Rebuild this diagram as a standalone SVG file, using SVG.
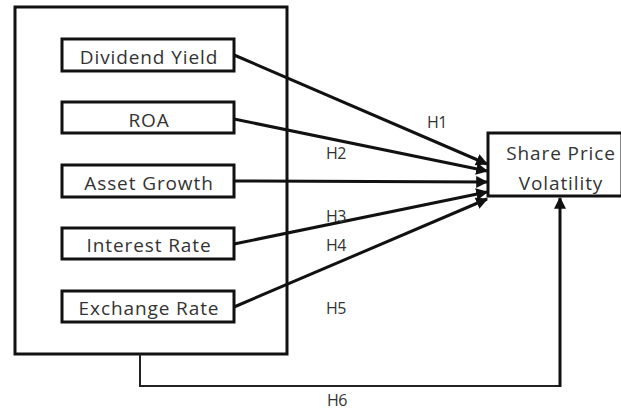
<svg xmlns="http://www.w3.org/2000/svg" width="621" height="410" viewBox="0 0 621 410">
<style>
.box{fill:#fff;stroke:#111;stroke-width:3}
.lbl{font-family:"Open Sans","Liberation Sans",sans-serif;font-size:19px;letter-spacing:0.9px;fill:#333;text-anchor:middle}
.h{font-family:"Open Sans","Liberation Sans",sans-serif;font-size:16px;letter-spacing:-0.6px;fill:#333}
.c{fill:none;stroke:#111;stroke-width:3}
</style>
<defs>
<marker id="ah" viewBox="0 0 10 10" refX="9" refY="5" markerWidth="4" markerHeight="4" orient="auto" markerUnits="strokeWidth">
<path d="M0,0 L10,5 L0,10 z" fill="#111"/>
</marker>
</defs>
<rect width="621" height="410" fill="#fff"/>
<g id="outer"><rect class="box" x="15" y="7" width="272" height="347"/></g>
<g id="dividend"><rect class="box" x="62" y="39" width="172" height="32"/><text class="lbl" x="149" y="64">Dividend Yield</text></g>
<g id="roa"><rect class="box" x="62" y="102" width="172" height="31"/><text class="lbl" x="149" y="127">ROA</text></g>
<g id="asset"><rect class="box" x="62" y="165" width="172" height="32"/><text class="lbl" x="149" y="190">Asset Growth</text></g>
<g id="interest"><rect class="box" x="62" y="228" width="172" height="31"/><text class="lbl" x="149" y="252">Interest Rate</text></g>
<g id="exchange"><rect class="box" x="62" y="291" width="172" height="31"/><text class="lbl" x="149" y="315">Exchange Rate</text></g>
<g id="spv"><rect class="box" x="488" y="133" width="134" height="63"/><text class="lbl" x="561" y="160">Share Price</text><text class="lbl" x="561" y="190">Volatility</text></g>
<g id="connectors">
<line class="c" x1="234" y1="55" x2="487" y2="164" marker-end="url(#ah)"/>
<line class="c" x1="234" y1="119" x2="487" y2="171" marker-end="url(#ah)"/>
<line class="c" x1="234" y1="181" x2="487" y2="182" marker-end="url(#ah)"/>
<line class="c" x1="234" y1="244" x2="487" y2="192" marker-end="url(#ah)"/>
<line class="c" x1="234" y1="307" x2="487" y2="199" marker-end="url(#ah)"/>
<polyline fill="none" stroke="#222" stroke-width="2" points="140,354 140,386 560,386"/>
<line class="c" x1="560" y1="387" x2="560" y2="198" marker-end="url(#ah)"/>
</g>
<g id="labels">
<text class="h" x="427" y="128">H1</text>
<text class="h" x="326" y="159">H2</text>
<text class="h" x="326" y="222">H3</text>
<text class="h" x="326" y="251">H4</text>
<text class="h" x="326" y="314">H5</text>
<text class="h" x="327" y="406">H6</text>
</g>
</svg>
